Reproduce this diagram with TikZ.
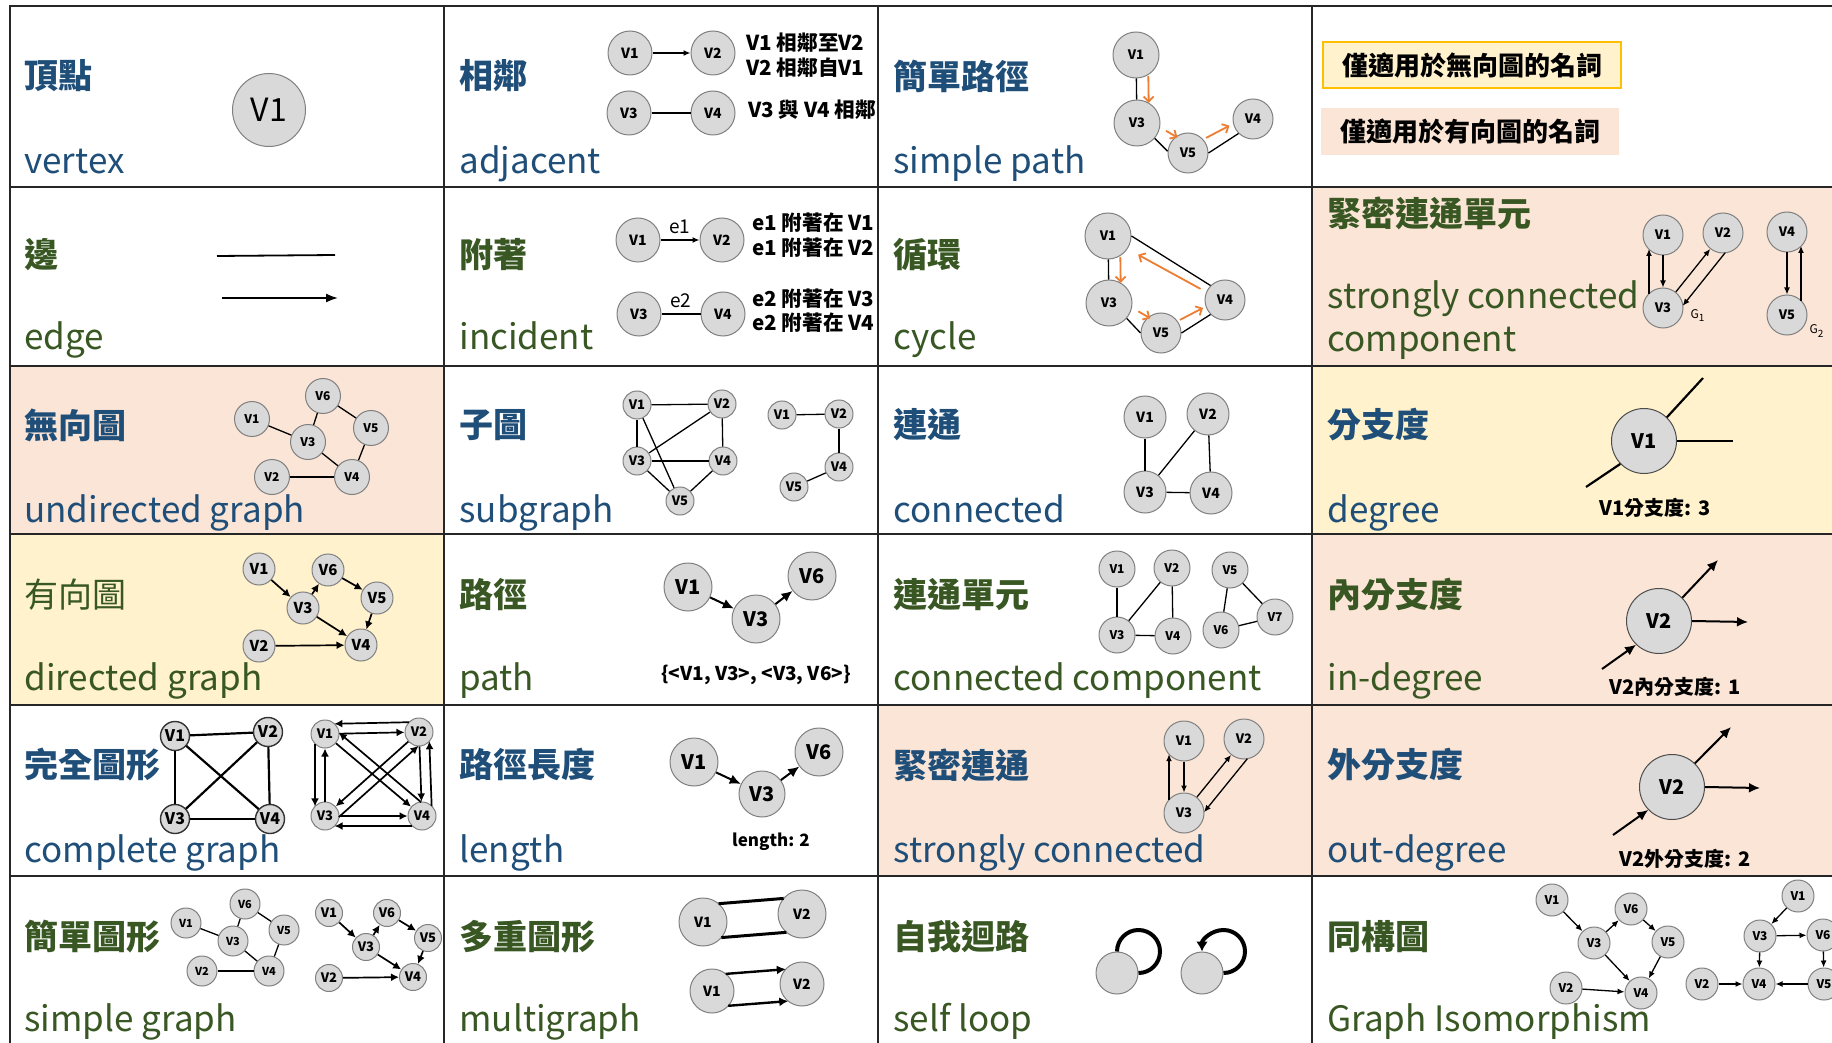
\documentclass[tikz,border=0pt]{standalone}
\usepackage{fontspec}
\setmainfont{Noto Sans CJK TC}
\usetikzlibrary{arrows.meta,calc}
\definecolor{termblue}{HTML}{1F4E79}
\definecolor{termgreen}{HTML}{385723}
\definecolor{cellpink}{HTML}{FBE5D6}
\definecolor{cellyellow}{HTML}{FFF2CC}
\definecolor{legendgold}{HTML}{FFC000}
\definecolor{vtxfill}{HTML}{D9D9D9}
\definecolor{vtxline}{HTML}{808080}
\definecolor{walkorange}{HTML}{ED7D31}
\newcommand{\fsz}[1]{\fontsize{#1}{#1}\selectfont}

\begin{document}
\begin{tikzpicture}[
  x=0.5pt, y=-0.5pt,
  every node/.style={inner sep=0pt},
  zh/.style={anchor=west, font=\bfseries\fsz{17pt}},
  en/.style={anchor=base west, font=\fsz{17.5pt}},
  note/.style={anchor=west, font=\bfseries\fsz{10.3pt}},
  vtx/.style={circle, draw=vtxline, fill=vtxfill, line width=0.5pt,
              minimum size=#1pt, font=\bfseries\fsz{6.5pt}},
  vtx/.default=20,
  vf/.style={font=\bfseries\fsz{#1}},
  grid line/.style={line width=0.8pt, draw=black!85},
  link/.style={line width=0.65pt},
  dlink/.style={link, -{Latex[length=3.5pt,width=3pt]}},
  mid arr/.style={line width=0.85pt, -{Latex[length=4pt,width=4pt]}},
  bold link/.style={line width=1.1pt},
  bold arr/.style={line width=1pt, -{Latex[length=5.5pt,width=5pt]}},
  walk/.style={draw=walkorange, line width=0.9pt,
               -{Straight Barb[length=2.5pt,width=5pt]}}
]
  \useasboundingbox (0,0) rectangle (1832,1043);
  \clip (0,0) rectangle (1832,1043);

  % cell shading
  \fill[cellpink] (1312,187) rectangle (1832,366);
  \fill[cellpink] (10,366) rectangle (444,534);
  \fill[cellyellow] (1312,366) rectangle (1832,534);
  \fill[cellyellow] (10,534) rectangle (444,705);
  \fill[cellpink] (1312,534) rectangle (1832,876);
  \fill[cellpink] (878,705) rectangle (1312,876);

  % vertex, edge
  \node[vtx=36.5, font=\fsz{16pt}] (vx) at (269,110) {V1};
  \coordinate (edA) at (217,256); \coordinate (edB) at (335,255);
  \coordinate (edC) at (222,298); \coordinate (edD) at (338,298);
  \draw[line width=0.9pt] (edA) -- (edB);
  \draw[line width=0.9pt, -{Latex[length=6pt,width=4.5pt]}] (edC) -- (edD);

  % adjacent
  \foreach \n/\x/\y in {1/630/53, 2/713/53, 3/629/113, 4/713/113}
    \node[vtx=22, vf=7pt] (ad\n) at (\x,\y) {V\n};
  \draw[dlink] (ad1) -- (ad2);
  \draw[link] (ad3) -- (ad4);
  \node[note] (adT1) at (746,43) {V1 相鄰至V2};
  \node[note] (adT2) at (746,68) {V2 相鄰自V1};
  \node[note] (adT3) at (748,110) {V3 與 V4 相鄰};

  % incident
  \foreach \n/\x/\y in {1/638/240, 2/722/240, 3/639/314, 4/723/314}
    \node[vtx=22, vf=7pt] (ic\n) at (\x,\y) {V\n};
  \draw[dlink] (ic1) -- node[above=3pt, font=\fsz{9.5pt}] (icE1) {e1} (ic2);
  \draw[link] (ic3) -- node[above=3pt, font=\fsz{9.5pt}] (icE2) {e2} (ic4);
  \node[note] (icT1) at (752,223) {e1 附著在 V1};
  \node[note] (icT2) at (752,248) {e1 附著在 V2};
  \node[note] (icT3) at (752,299) {e2 附著在 V3};
  \node[note] (icT4) at (752,323) {e2 附著在 V4};

  % simple path
  \foreach \n/\x/\y/\rad in {1/1136/55/23, 3/1137/123/23, 5/1188/153/20, 4/1253/119/20}
    \node[vtx=\rad] (sp\n) at (\x,\y) {V\n};
  \draw[link] (sp1) -- (sp3);
  \draw[link] (sp3.-41) -- (sp5.175);
  \draw[link] (sp5.east) -- (sp4.225);
  \draw[walk, shorten <=10.5pt, shorten >=10pt] ($(sp1)!6pt!90:(sp3)$) -- ($(sp3)!6pt!-90:(sp1)$);
  \draw[walk, shorten <=14.5pt, shorten >=8.5pt] ($(sp3)!4pt!90:(sp5)$) -- ($(sp5)!4pt!-90:(sp3)$);
  \draw[walk, shorten <=11.5pt, shorten >=12pt] ($(sp5)!2.5pt!90:(sp4)$) -- ($(sp4)!2.5pt!-90:(sp5)$);

  % cycle
  \foreach \n/\x/\y/\rad in {1/1108/236/23, 3/1109/303/23, 5/1161/333/20, 4/1225/300/20}
    \node[vtx=\rad] (cy\n) at (\x,\y) {V\n};
  \draw[link] (cy1) -- (cy3);
  \draw[link] (cy3.-41) -- (cy5.west);
  \draw[link] (cy5.east) -- (cy4.225);
  \draw[link] (cy1.east) -- (cy4.135);
  \draw[walk, shorten <=10.5pt, shorten >=10pt] ($(cy1)!6pt!90:(cy3)$) -- ($(cy3)!6pt!-90:(cy1)$);
  \draw[walk, shorten <=14.8pt, shorten >=8.3pt] ($(cy3)!3.7pt!90:(cy5)$) -- ($(cy5)!3.7pt!-90:(cy3)$);
  \draw[walk, shorten <=11.4pt, shorten >=11.6pt] ($(cy5)!1.5pt!90:(cy4)$) -- ($(cy4)!1.5pt!-90:(cy5)$);
  \draw[walk, shorten <=13.4pt, shorten >=17.7pt] ($(cy4)!1pt!90:(cy1)$) -- ($(cy1)!1pt!-90:(cy4)$);

  % legend
  \node[draw=legendgold, fill=cellyellow, line width=0.6pt, minimum width=149pt,
        minimum height=23pt, font=\bfseries\fsz{13pt}] (lgUndir) at (1472,65) {僅適用於無向圖的名詞};
  \node[fill=cellpink, minimum width=149pt, minimum height=23.5pt,
        font=\bfseries\fsz{13pt}] (lgDir) at (1470,132) {僅適用於有向圖的名詞};

  % strongly connected component
  \foreach \n/\x/\y in {1/1663/235, 2/1723/233, 3/1663/308, 4/1787/232, 5/1787/315}
    \node[vtx=20] (scc\n) at (\x,\y) {V\n};
  \draw[dlink] (scc1) -- (scc3);
  \draw[dlink, shorten <=7pt, shorten >=7pt] ($(scc3)!7pt!90:(scc1)$) -- ($(scc1)!7pt!-90:(scc3)$);
  \draw[dlink] (scc3) -- (scc2);
  \draw[dlink, shorten <=7pt, shorten >=7pt] ($(scc2)!7pt!90:(scc3)$) -- ($(scc3)!7pt!-90:(scc2)$);
  \draw[dlink] (scc4) -- (scc5);
  \draw[dlink, shorten <=7pt, shorten >=7pt] ($(scc5)!7pt!-90:(scc4)$) -- ($(scc4)!7pt!90:(scc5)$);
  \node[font=\fsz{6pt}] (sccG1) at (1698,316) {G\textsubscript{1}};
  \node[font=\fsz{6pt}] (sccG2) at (1817,331) {G\textsubscript{2}};

  % undirected graph
  \foreach \n/\x/\y in {1/252/419, 6/323/396, 3/308/442, 5/371/428, 2/272/477, 4/352/477}
    \node[vtx=17.5, vf=6pt] (ug\n) at (\x,\y) {V\n};
  \foreach \a/\b in {1/3, 3/6, 6/5, 5/4, 3/4, 2/4}
    \draw[link] (ug\a) -- (ug\b);

  % directed graph
  \foreach \n/\x/\y in {1/259/569, 6/328/570, 3/303/608, 5/377/598, 2/259/646, 4/361/645}
    \node[vtx=16, vf=7.5pt] (dg\n) at (\x,\y) {V\n};
  \foreach \a/\b in {1/3, 3/6, 6/5, 5/4, 3/4, 2/4}
    \draw[mid arr] (dg\a) -- (dg\b);

  % subgraph
  \foreach \n/\x/\y in {1/637/405, 2/722/404, 3/637/461, 4/723/461, 5/680/501}
    \node[vtx=14] (sa\n) at (\x,\y) {V\n};
  \foreach \a/\b in {1/2, 1/3, 1/5, 2/4, 2/3, 3/4, 3/5, 4/5}
    \draw[link] (sa\a) -- (sa\b);
  \foreach \n/\x/\y in {1/782/415, 2/839/414, 4/839/467, 5/794/487}
    \node[vtx=14] (sb\n) at (\x,\y) {V\n};
  \foreach \a/\b in {1/2, 2/4, 4/5}
    \draw[link] (sb\a) -- (sb\b);

  % path
  \foreach \n/\x/\y in {1/688/587, 3/756/619, 6/812/576}
    \node[vtx=24, vf=10pt] (pa\n) at (\x,\y) {V\n};
  \draw[bold arr] (pa1) -- (pa3);
  \draw[bold arr] (pa3) -- (pa6);
  \node[font=\bfseries\fsz{9.5pt}] (paSeq) at (756,675) {\{<V1, V3>, <V3, V6>\}};

  % connected
  \foreach \n/\x/\y in {1/1145/417, 2/1208/414, 3/1145/492, 4/1211/493}
    \node[vtx=21, vf=7pt] (cn\n) at (\x,\y) {V\n};
  \foreach \a/\b in {1/3, 2/3, 2/4, 3/4}
    \draw[link] (cn\a) -- (cn\b);

  % connected component
  \foreach \n/\x/\y in {1/1117/569, 2/1172/568, 3/1117/635, 4/1173/636, 5/1230/570, 6/1221/630, 7/1275/617}
    \node[vtx=18, vf=6pt] (cc\n) at (\x,\y) {V\n};
  \foreach \a/\b in {1/3, 2/3, 2/4, 3/4, 5/6, 5/7, 6/7}
    \draw[link] (cc\a) -- (cc\b);

  % degree, in-degree, out-degree
  \node[vtx=32.5, vf=10pt, draw=black!70] (deg) at (1644,441) {V1};
  \coordinate (degA) at (1703,378);
  \coordinate (degB) at (1733,441);
  \coordinate (degC) at (1586,487);
  \draw[bold link] (deg.46) -- (degA);
  \draw[bold link] (deg.east) -- (degB);
  \draw[bold link] (deg.224) -- (degC);
  \node[font=\bfseries\fsz{10pt}] (degT) at (1655,508) {V1分支度: 3};

  \node[vtx=32.5, vf=10pt, draw=black!70] (indeg) at (1659,621) {V2};
  \coordinate (indegA) at (1718,560);
  \coordinate (indegB) at (1748,622);
  \coordinate (indegC) at (1602,669);
  \draw[bold arr] (indeg.45) -- (indegA);
  \draw[bold arr] (indeg.east) -- (indegB);
  \draw[bold arr] (indegC) -- (indeg.226);
  \node[font=\bfseries\fsz{10pt}] (indegT) at (1675,687) {V2內分支度: 1};

  \node[vtx=32.5, vf=10pt, draw=black!70] (outdeg) at (1672,787) {V2};
  \coordinate (outdegA) at (1731,727);
  \coordinate (outdegB) at (1760,788);
  \coordinate (outdegC) at (1613,835);
  \draw[bold arr] (outdeg.46) -- (outdegA);
  \draw[bold arr] (outdeg.east) -- (outdegB);
  \draw[bold arr] (outdegC) -- (outdeg.224);
  \node[font=\bfseries\fsz{10pt}] (outdegT) at (1685,859) {V2外分支度: 2};

  % complete graph
  \foreach \n/\x/\y in {1/175/736, 2/268/732, 3/175/819, 4/270/819}
    \node[vtx=14.5, vf=8pt, draw=black!80, line width=0.7pt] (ka\n) at (\x,\y) {V\n};
  \foreach \a/\b in {1/2, 1/3, 1/4, 2/3, 2/4, 3/4}
    \draw[bold link] (ka\a) -- (ka\b);
  \foreach \n/\x/\y in {1/325/734, 2/419/732, 3/325/816, 4/422/816}
    \node[vtx=14, vf=6.5pt] (kb\n) at (\x,\y) {V\n};
  \foreach \a/\b in {1/2, 3/4, 3/1, 2/4, 1/4, 2/3}
    \draw[mid arr] (kb\a) -- (kb\b);
  \draw[mid arr, shorten <=4.8pt, shorten >=4.8pt] ($(kb2)!5pt!-90:(kb1)$) -- ($(kb1)!5pt!90:(kb2)$);
  \draw[mid arr, shorten <=4.8pt, shorten >=4.8pt] ($(kb4)!5pt!90:(kb3)$) -- ($(kb3)!5pt!-90:(kb4)$);
  \draw[mid arr, shorten <=4.8pt, shorten >=4.8pt] ($(kb1)!5pt!-90:(kb3)$) -- ($(kb3)!5pt!90:(kb1)$);
  \draw[mid arr, shorten <=4.8pt, shorten >=4.8pt] ($(kb4)!5pt!-90:(kb2)$) -- ($(kb2)!5pt!90:(kb4)$);
  \draw[mid arr, shorten <=4.8pt, shorten >=4.8pt] ($(kb4)!5pt!-90:(kb1)$) -- ($(kb1)!5pt!90:(kb4)$);
  \draw[mid arr, shorten <=4.8pt, shorten >=4.8pt] ($(kb3)!5pt!-90:(kb2)$) -- ($(kb2)!5pt!90:(kb3)$);

  % simple graph
  \foreach \n/\x/\y in {1/186/923, 6/245/904, 3/233/941, 5/284/930, 2/202/971, 4/269/971}
    \node[vtx=15, vf=5.5pt] (sm\n) at (\x,\y) {V\n};
  \foreach \a/\b in {1/3, 3/6, 6/5, 5/4, 3/4, 2/4}
    \draw[link] (sm\a) -- (sm\b);
  \foreach \n/\x/\y in {1/329/913, 6/387/913, 3/366/947, 5/428/938, 2/329/978, 4/413/977}
    \node[vtx=13.5, vf=6.5pt] (sd\n) at (\x,\y) {V\n};
  \foreach \a/\b in {1/3, 3/6, 6/5, 5/4, 3/4, 2/4}
    \draw[mid arr] (sd\a) -- (sd\b);

  % length
  \foreach \n/\x/\y/\rad in {1/694/762/24, 3/762/794/23, 6/819/752/24}
    \node[vtx=\rad, vf=10pt] (ln\n) at (\x,\y) {V\n};
  \draw[bold arr] (ln1) -- (ln3);
  \draw[bold arr] (ln3) -- (ln6);
  \node[font=\bfseries\fsz{8.5pt}] (lnT) at (771,842) {length: 2};

  % multigraph
  \node[vtx=24, vf=7pt] (ma1) at (703,922) {V1};
  \node[vtx=24, vf=7pt] (ma2) at (802,914) {V2};
  \draw[line width=1.5pt, shorten <=8.5pt, shorten >=8.5pt] ($(ma1)!8.5pt!90:(ma2)$) -- ($(ma2)!8.5pt!-90:(ma1)$);
  \draw[line width=1.5pt, shorten <=8.5pt, shorten >=8.5pt] ($(ma1)!8.5pt!-90:(ma2)$) -- ($(ma2)!8.5pt!90:(ma1)$);
  \node[vtx=22, vf=7pt] (mb1) at (712,991) {V1};
  \node[vtx=22, vf=7pt] (mb2) at (802,984) {V2};
  \draw[line width=1.2pt, -{Latex[length=4.5pt,width=4.5pt]}, shorten <=7.5pt, shorten >=7.5pt]
    ($(mb1)!8pt!90:(mb2)$) -- ($(mb2)!8pt!-90:(mb1)$);
  \draw[line width=1.2pt, -{Latex[length=4.5pt,width=4.5pt]}, shorten <=7.5pt, shorten >=7.5pt]
    ($(mb1)!8pt!-90:(mb2)$) -- ($(mb2)!8pt!90:(mb1)$);

  % strongly connected
  \foreach \n/\x/\y in {1/1184/741, 2/1244/739, 3/1184/813}
    \node[vtx=20] (sco\n) at (\x,\y) {V\n};
  \draw[dlink] (sco1) -- (sco3);
  \draw[dlink, shorten <=6.6pt, shorten >=6.6pt] ($(sco3)!7.5pt!90:(sco1)$) -- ($(sco1)!7.5pt!-90:(sco3)$);
  \draw[dlink] (sco3) -- (sco2);
  \draw[dlink, shorten <=6.6pt, shorten >=6.6pt] ($(sco2)!7.5pt!90:(sco3)$) -- ($(sco3)!7.5pt!-90:(sco2)$);

  % self loop
  \node[vtx=21] (lp1) at (1117,973) {};
  \node[vtx=21] (lp2) at (1202,973) {};
  \draw[line width=2pt] (lp1.north) arc[start angle=180, end angle=450, radius=21.5];
  \draw[line width=2pt, -{Latex[length=5pt,width=6pt]}] (lp2.east) arc[start angle=90, end angle=-180, radius=21.5];

  % graph isomorphism
  \foreach \n/\x/\y in {1/1552/900, 6/1631/909, 3/1594/943, 5/1668/942, 2/1566/988, 4/1641/993}
    \node[vtx=16, vf=6pt] (ia\n) at (\x,\y) {V\n};
  \foreach \a/\b in {1/3, 3/6, 6/5, 5/4, 3/4, 2/4}
    \draw[dlink] (ia\a) -- (ia\b);
  \foreach \n/\x/\y in {1/1798/896, 3/1760/936, 6/1823/935, 2/1702/984, 4/1759/984, 5/1824/984}
    \node[vtx=16, vf=6pt] (ib\n) at (\x,\y) {V\n};
  \foreach \a/\b in {1/3, 3/6, 3/4, 6/5, 5/4, 2/4}
    \draw[dlink] (ib\a) -- (ib\b);

  % table rules
  \foreach \x in {444,878,1312} \draw[grid line] (\x,6) -- (\x,1043);
  \foreach \y in {187,366,534,705,876} \draw[grid line] (10,\y) -- (1832,\y);
  \draw[grid line, line width=1.1pt] (10,1043) -- (10,6) -- (1832,6);

  % terms
  \foreach \x/\termzh/\termen [count=\i] in {24/頂點/vertex, 459/相鄰/adjacent, 893/簡單路徑/simple path} {
    \node[zh, text=termblue] (zhA\i) at (\x,76) {\termzh};
    \node[en, text=termblue] (enA\i) at (\x,174) {\termen};
  }
  \foreach \x/\termzh/\termen [count=\i] in {24/邊/edge, 459/附著/incident, 893/循環/cycle} {
    \node[zh, text=termgreen] (zhB\i) at (\x,255) {\termzh};
    \node[en, text=termgreen] (enB\i) at (\x,350) {\termen};
  }
  \node[zh, text=termgreen] (zhB4) at (1327,213) {緊密連通單元};
  \node[en, text=termgreen] (enB4) at (1327,309) {strongly connected};
  \node[en, text=termgreen] (enB5) at (1327,351) {component};
  \foreach \x/\termzh/\termen [count=\i] in {24/無向圖/undirected graph, 459/子圖/subgraph, 893/連通/connected, 1327/分支度/degree} {
    \node[zh, text=termblue] (zhC\i) at (\x,425) {\termzh};
    \node[en, text=termblue] (enC\i) at (\x,522) {\termen};
  }
  \node[zh, text=termgreen, font=\fsz{17pt}] (zhD1) at (24,595) {有向圖};
  \node[en, text=termgreen] (enD1) at (24,690) {directed graph};
  \foreach \x/\termzh/\termen [count=\i from 2] in {459/路徑/path, 893/連通單元/connected component, 1327/內分支度/in-degree} {
    \node[zh, text=termgreen] (zhD\i) at (\x,595) {\termzh};
    \node[en, text=termgreen] (enD\i) at (\x,690) {\termen};
  }
  \foreach \x/\termzh/\termen [count=\i] in {24/完全圖形/complete graph, 459/路徑長度/length, 893/緊密連通/strongly connected, 1327/外分支度/out-degree} {
    \node[zh, text=termblue] (zhE\i) at (\x,765) {\termzh};
    \node[en, text=termblue] (enE\i) at (\x,862) {\termen};
  }
  \foreach \x/\termzh/\termen [count=\i] in {24/簡單圖形/simple graph, 459/多重圖形/multigraph, 893/自我迴路/self loop, 1327/同構圖/Graph Isomorphism} {
    \node[zh, text=termgreen] (zhF\i) at (\x,937) {\termzh};
    \node[en, text=termgreen] (enF\i) at (\x,1031) {\termen};
  }
\end{tikzpicture}
\end{document}
